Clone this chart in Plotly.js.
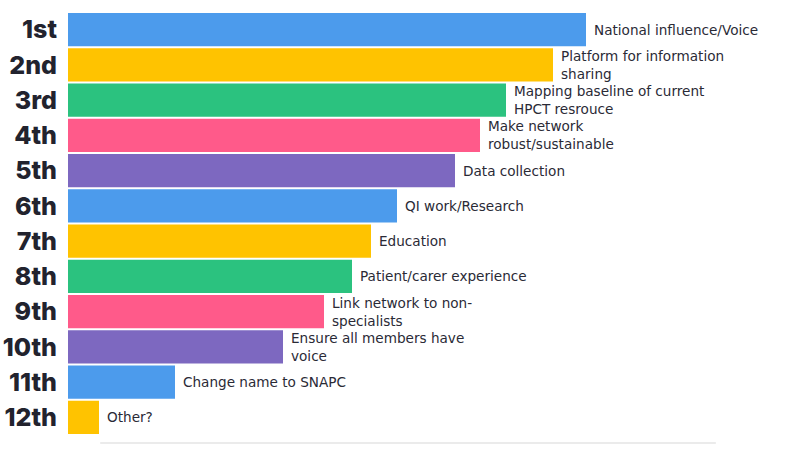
<!DOCTYPE html>
<html>
<head>
<meta charset="utf-8">
<script src="https://cdn.plot.ly/plotly-3.0.1.min.js"></script>
<style>html,body{margin:0;padding:0;background:#fff;}#chart{width:800px;height:449px;}</style>
</head>
<body>
<div id="chart"></div>
<script>
const ranks = ["1st","2nd","3rd","4th","5th","6th","7th","8th","9th","10th","11th","12th"];
const labels = [
  "National influence/Voice",
  "Platform for information<br>sharing",
  "Mapping baseline of current<br>HPCT resrouce",
  "Make network<br>robust/sustainable",
  "Data collection",
  "QI work/Research",
  "Education",
  "Patient/carer experience",
  "Link network to non-<br>specialists",
  "Ensure all members have<br>voice",
  "Change name to SNAPC",
  "Other?"
];
const scores = [518, 485, 438, 412, 387, 329, 303, 284, 256, 215, 107, 31];
const colors = ["#4c9bec","#ffc300","#2bc27f","#ff5a8a","#7d68c0","#4c9bec","#ffc300","#2bc27f","#ff5a8a","#7d68c0","#4c9bec","#ffc300"];

const trace = {
  type: "bar",
  orientation: "h",
  x: scores,
  y: ranks,
  marker: {color: colors, line: {width: 0}},
  hoverinfo: "none"
};

const annotations = ranks.map((r, i) => ({
  x: scores[i], y: r, xref: "x", yref: "y",
  text: labels[i], showarrow: false,
  xanchor: "left", yanchor: "middle", align: "left",
  xshift: 6,
  font: {family: "DejaVu Sans, sans-serif", size: 13.6, color: "#2a2a36"}
}));

const layout = {
  width: 800, height: 449,
  margin: {l: 68, r: 0, t: 12, b: 14},
  paper_bgcolor: "#ffffff", plot_bgcolor: "#ffffff",
  bargap: 0.06,
  showlegend: false,
  xaxis: {range: [0, 732], visible: false, fixedrange: true},
  yaxis: {
    type: "category", autorange: "reversed",
    showgrid: false, zeroline: false, showline: false, ticks: "",
    ticklabelstandoff: 10,
    tickfont: {family: "Inter, sans-serif", size: 25, weight: 800, color: "#22232e"}
  },
  annotations: annotations,
  shapes: [{
    type: "line", xref: "paper", yref: "paper",
    x0: 0.044, x1: 0.885, y0: -0.019, y1: -0.019,
    line: {color: "#ebebeb", width: 2}
  }]
};

Plotly.newPlot("chart", [trace], layout, {displayModeBar: false, staticPlot: true});
</script>
</body>
</html>
